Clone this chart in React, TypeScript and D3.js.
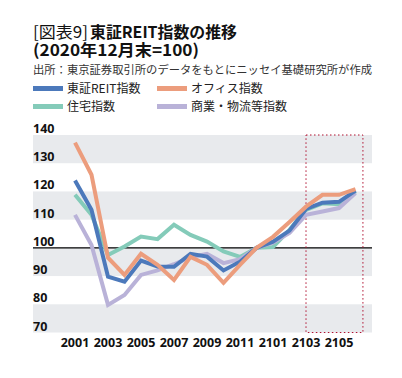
import React from "react";
import * as d3 from "d3";

const months = ["2001","2002","2003","2004","2005","2006","2007","2008","2009","2010","2011","2012","2101","2102","2103","2104","2105","2106"];
const tickLabels = ["2001","2003","2005","2007","2009","2011","2101","2103","2105"];
const yTicks = [70, 80, 90, 100, 110, 120, 130, 140];

const reitTotal = [123.9, 113.5, 89.8, 88.0, 95.5, 93.4, 93.3, 97.9, 96.9, 92.0, 95.1, 100, 102.2, 106.1, 113.8, 116.0, 116.3, 120.3];
const office = [137.3, 125.9, 96.5, 90.4, 97.9, 94.0, 88.6, 96.8, 94.0, 87.6, 94.0, 100, 103.9, 109.2, 114.6, 118.8, 118.8, 120.8];
const residential = [118.8, 111.7, 97.5, 100.5, 104.0, 103.1, 108.2, 104.6, 102.2, 98.7, 96.8, 100, 100.3, 106.4, 113.5, 115.8, 115.5, 120.0];
const retailLogistics = [111.7, 101.0, 79.8, 83.3, 90.4, 92.0, 94.2, 96.7, 97.9, 94.6, 96.0, 100, 101.8, 105.3, 111.7, 112.9, 114.1, 119.4];

const seriesNames = ["東証REIT指数", "オフィス指数", "住宅指数", "商業・物流等指数"];
const seriesColors = ["#4c79bb", "#ec9d7d", "#84cbb9", "#b9b2d8"];
const seriesData = [reitTotal, office, residential, retailLogistics];
const drawOrder = [2, 3, 0, 1];

const W = 402, H = 378;
const plotLeft = 33, plotRight = 372;
const font = "'Noto Sans CJK JP', 'Noto Sans', sans-serif";

export default function App() {
  const x = d3.scaleLinear().domain([0, months.length - 1]).range([75, 355.5]);
  const y = d3.scaleLinear().domain([70, 140]).range([332.5, 135]);
  const line = d3.line<number>().x((_, i) => x(i)).y((d) => y(d));
  const bands = [70, 90, 110, 130];
  const boxX0 = x(14);
  const boxX1 = x(17.45);

  return (
    <svg width={W} height={H} style={{ position: "absolute", left: 0, top: 0, background: "#fff" }} fontFamily={font}>
      <text x={33} y={38} fontSize={16} fontWeight={400} fill="#111" textLength={55} lengthAdjust="spacingAndGlyphs">[図表9]</text>
      <text x={90} y={38} fontSize={16} fontWeight={700} fill="#111" textLength={147} lengthAdjust="spacingAndGlyphs">東証REIT指数の推移</text>
      <text x={33} y={56} fontSize={16} fontWeight={700} fill="#111" textLength={166} lengthAdjust="spacingAndGlyphs">(2020年12月末=100)</text>
      <text x={33} y={74} fontSize={11.3} fill="#333" textLength={339} lengthAdjust="spacingAndGlyphs">出所：東京証券取引所のデータをもとにニッセイ基礎研究所が作成</text>
      {seriesNames.map((n, i) => {
        const lx = i % 2 === 0 ? 33 : 157;
        const ly = i < 2 ? 88.5 : 106.5;
        return (
          <g key={n}>
            <rect x={lx} y={ly - 2.5} width={30} height={5} fill={seriesColors[i]} />
            <text x={lx + 34} y={ly + 4.5} fontSize={12} fill="#222">{n}</text>
          </g>
        );
      })}
      {bands.map((b) => (
        <rect key={b} x={plotLeft} y={y(b + 10)} width={plotRight - plotLeft} height={y(b) - y(b + 10)} fill="#e8eaed" />
      ))}
      {yTicks.map((t) => (
        <text key={t} x={33} y={y(t) - 2} fontSize={12.5} fontWeight={700} fill="#111" fontFamily="'Open Sans', sans-serif">{t}</text>
      ))}
      <line x1={plotLeft} x2={plotRight} y1={y(100)} y2={y(100)} stroke="#000" strokeWidth={1.2} />
      <rect x={boxX0} y={y(140)} width={boxX1 - boxX0} height={y(70) - y(140)} fill="none" stroke="#b01030" strokeWidth={1} strokeDasharray="1.5,2.5" />
      {drawOrder.map((si) => (
        <path key={si} d={line(seriesData[si]) || ""} fill="none" stroke={seriesColors[si]} strokeWidth={4} strokeLinejoin="miter" />
      ))}
      {tickLabels.map((t) => (
        <text key={t} x={x(months.indexOf(t))} y={347} fontSize={12.5} fontWeight={700} fill="#111" textAnchor="middle" fontFamily="'Open Sans', sans-serif">{t}</text>
      ))}
    </svg>
  );
}
